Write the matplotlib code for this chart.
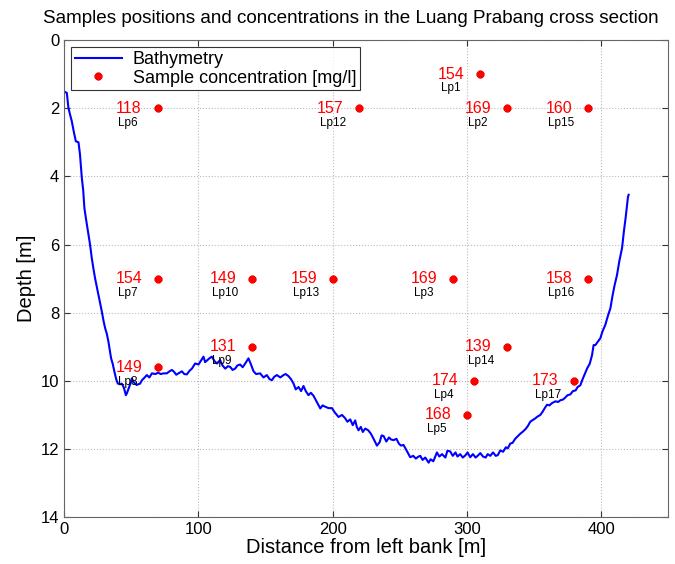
import matplotlib
matplotlib.use("Agg")
import matplotlib.pyplot as plt

plt.rcParams['font.family'] = ['Liberation Sans', 'DejaVu Sans']

# =========================================================
# Datos
# =========================================================
# Batimetria: pares (distancia [m], profundidad [m])
batimetria = [
    (1, 1.53), (2, 1.55), (3.2, 1.99), (4.5, 2.2), (5.7, 2.38), (7, 2.65), (8.7, 2.97),
    (10.7, 3.0), (11.8, 3.35), (13.2, 4.05), (14.2, 4.4), (15.1, 4.93), (16.5, 5.3),
    (18.1, 5.7), (19.3, 6.0), (20.6, 6.4), (22, 6.75), (23.1, 7.0), (24.4, 7.25),
    (25.6, 7.48), (26.8, 7.7), (28.1, 7.97), (29.4, 8.25), (30.6, 8.46), (31.8, 8.62),
    (33, 8.85), (34, 9.1), (35, 9.34), (36.2, 9.5), (37.5, 9.74), (38.8, 9.95),
    (40, 10.08), (41.7, 10.1), (43, 10.08), (44.5, 10.2), (46, 10.42), (46.7, 10.37),
    (48, 10.23), (49.2, 10.1), (50.4, 9.93), (52, 10.05), (54, 10.12), (56.6, 10.08),
    (58, 9.98), (60, 9.9), (61.6, 9.83), (63.5, 9.9), (65.4, 9.78), (68, 9.8), (70, 9.76),
    (72, 9.8), (74, 9.78), (76.5, 9.78), (78.5, 9.72), (80.3, 9.68), (82, 9.74),
    (83.5, 9.82), (85.2, 9.78), (87.7, 9.72), (89.5, 9.8), (91.4, 9.81), (93.5, 9.7),
    (95.2, 9.64), (97.6, 9.49), (100.1, 9.52), (102, 9.4), (103.8, 9.29), (105, 9.45),
    (106.8, 9.39), (108.5, 9.33), (110, 9.29), (112, 9.42), (113.8, 9.49), (116.2, 9.39),
    (118, 9.55), (120, 9.64), (122, 9.57), (123.7, 9.59), (125.5, 9.68), (127.4, 9.64),
    (129, 9.55), (131.1, 9.52), (133, 9.6), (134.9, 9.49), (137.3, 9.34), (139, 9.5),
    (141.1, 9.72), (143, 9.8), (146, 9.78), (148.5, 9.9), (151, 9.83), (153, 9.95),
    (154.8, 9.98), (156.5, 9.88), (158.5, 9.83), (161, 9.9), (163.4, 9.83), (165, 9.8),
    (167.1, 9.86), (169, 9.95), (170.9, 10.08), (172.5, 10.25), (174.6, 10.18),
    (176.5, 10.3), (178.3, 10.15), (180, 10.3), (182, 10.42), (183.8, 10.35),
    (185.8, 10.44), (188, 10.6), (190.8, 10.81), (192.5, 10.72), (194.5, 10.76),
    (197, 10.8), (199.5, 10.8), (201.5, 10.92), (204.4, 11.06), (207, 11.0),
    (209.4, 11.1), (211, 11.2), (213.1, 11.13), (215, 11.3), (216.8, 11.16), (218, 11.35),
    (219.3, 11.45), (221, 11.35), (222.5, 11.5), (224.3, 11.4), (226.5, 11.45),
    (228.5, 11.55), (230.5, 11.7), (233, 11.9), (235, 11.8), (236.5, 11.6), (238, 11.62),
    (240, 11.78), (242, 11.66), (243.5, 11.72), (245.4, 11.74), (247.5, 11.7),
    (249.5, 11.85), (251, 11.9), (252.8, 11.88), (254.5, 12.0), (257.8, 12.24),
    (260, 12.2), (262, 12.28), (264, 12.22), (265.3, 12.2), (267, 12.32), (269, 12.25),
    (271.5, 12.4), (273, 12.3), (275, 12.36), (277.7, 12.1), (279.5, 12.22),
    (281.5, 12.15), (284, 12.25), (285.5, 12.05), (287.6, 12.07), (289.5, 12.2),
    (291.5, 12.1), (293, 12.22), (295, 12.15), (297, 12.25), (299, 12.18), (300.5, 12.1),
    (302.5, 12.24), (304.5, 12.15), (306.5, 12.25), (308, 12.2), (310, 12.12),
    (312, 12.22), (314, 12.25), (315.5, 12.15), (317.4, 12.2), (319.5, 12.1),
    (321.5, 12.2), (323, 12.18), (324.9, 12.04), (327, 12.08), (329, 11.95),
    (330.5, 11.98), (332.3, 11.84), (334, 11.82), (336, 11.7), (338, 11.62),
    (339.8, 11.55), (342, 11.48), (344, 11.4), (345.5, 11.32), (347.2, 11.2),
    (349, 11.15), (351, 11.1), (352.5, 11.05), (354.7, 11.0), (356.5, 10.9), (358, 10.8),
    (359.7, 10.7), (361.5, 10.72), (363.5, 10.65), (366, 10.6), (368, 10.62),
    (369.6, 10.57), (371.5, 10.55), (373, 10.5), (375, 10.42), (377, 10.4), (379, 10.3),
    (381, 10.28), (382.5, 10.18), (384.5, 10.13), (385.7, 10.0), (387.5, 9.83),
    (389.5, 9.64), (391.5, 9.5), (393.2, 9.25), (394.4, 8.95), (395.7, 8.95),
    (397.5, 8.85), (399.4, 8.75), (401, 8.55), (403.1, 8.36), (405, 8.1), (406.9, 7.87),
    (408.5, 7.5), (410, 7.2), (411.8, 6.9), (413.5, 6.5), (415.6, 6.1), (417, 5.6),
    (418.3, 5.2), (419.3, 4.83), (420, 4.6), (420.5, 4.54),
]
bat_x = [p[0] for p in batimetria]
bat_y = [p[1] for p in batimetria]

# Muestras
muestras = ["Lp1", "Lp2", "Lp3", "Lp4", "Lp5", "Lp6", "Lp7", "Lp8", "Lp9", "Lp10",
            "Lp12", "Lp13", "Lp14", "Lp15", "Lp16", "Lp17"]
muestra_x = [310, 330, 290, 305, 300, 70, 70, 70, 140, 140, 220, 200, 330, 390, 390, 380]
muestra_y = [1, 2, 7, 10, 11, 2, 7, 9.6, 9, 7, 2, 7, 9, 2, 7, 10]
concentracion = [154, 169, 169, 174, 168, 118, 154, 149, 131, 149, 157, 159, 139, 160, 158, 173]

# =========================================================
# Figura
# =========================================================
fig = plt.figure(figsize=(6.75, 5.64), dpi=100)
ax = fig.add_axes([0.095, 0.083, 0.895, 0.846])

ax.plot(bat_x, bat_y, color="#0000FF", linewidth=1.5, label="Bathymetry")
ax.plot(muestra_x, muestra_y, linestyle="none", marker=(8, 2, 0), markersize=5.5,
        markeredgewidth=2.0, color="#FF0000", label="Sample concentration [mg/l]")

for nom, x, y, c in zip(muestras, muestra_x, muestra_y, concentracion):
    ax.text(x - 31.5, y, str(c), ha="left", va="center", fontsize=11.5, color="#FF0000")
    ax.text(x - 29.5, y + 0.42, nom, ha="left", va="center", fontsize=8.5, color="black")

ax.set_xlim(0, 450)
ax.set_ylim(14, 0)
ax.set_xticks([0, 100, 200, 300, 400])
ax.set_yticks([0, 2, 4, 6, 8, 10, 12, 14])
ax.tick_params(labelsize=12, direction="in", length=4, color="#333333")
ax.tick_params(top=True, right=True)
ax.grid(True, linestyle=":", color="#BBBBBB", linewidth=0.8)
for sp in ax.spines.values():
    sp.set_color("#666666")

# titulo centrado en la figura (como el original)
fig.text(0.52, 0.968,
         "Samples positions and concentrations in the Luang Prabang cross section",
         ha="center", va="center", fontsize=13.6)
ax.set_xlabel("Distance from left bank [m]", fontsize=14.5, labelpad=1)
ax.set_ylabel("Depth [m]", fontsize=14.5, labelpad=3)

leg = ax.legend(loc="upper left", fontsize=13, frameon=True, fancybox=False,
                borderpad=0.2, handlelength=2.6, handletextpad=0.6, labelspacing=0.1,
                borderaxespad=0.4)
leg.get_frame().set_edgecolor("black")
leg.get_frame().set_linewidth(0.8)

fig.savefig("out.png", dpi=100)
plt.close(fig)
